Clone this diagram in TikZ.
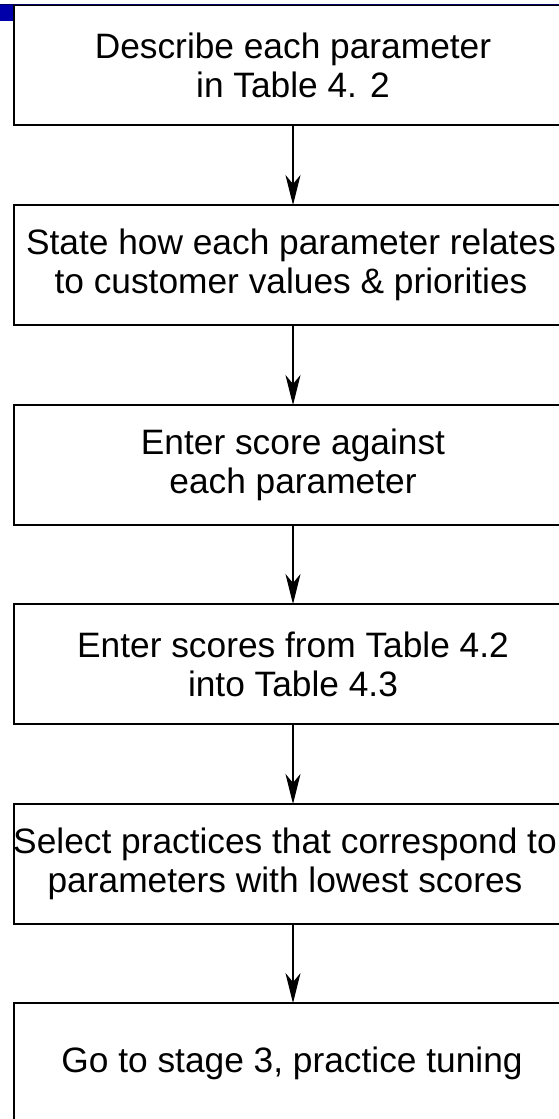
\documentclass[tikz,border=0pt]{standalone}
\usepackage{fontspec}
\setmainfont{Liberation Sans}
\usetikzlibrary{arrows.meta}
\begin{document}
\begin{tikzpicture}[x=1pt,y=-1pt,
  txt/.style={inner sep=0pt, align=center, font=\fontsize{35.3}{39}\selectfont},
  stepbox/.style={draw=black, line width=2pt, fill=white, minimum width=558pt, minimum height=120pt,
    inner sep=0pt, outer sep=0pt, txt},
  arr/.style={line width=1.2pt, -{Stealth[length=30pt,width=15pt,inset=9pt]}}]
\useasboundingbox (0,0) rectangle (559,1119);
\clip (0,0) rectangle (559,1119);
\fill[white] (0,0) rectangle (559,1119);
\node[stepbox] (b1) at (293,65) {Describe each parameter\\in Table 4. 2};
\node[stepbox] (b2) at (293,265) {};
\node[txt] (t2) at (291,265) {State how each parameter relates\\to customer values \& priorities};
\node[stepbox] (b3) at (293,465) {Enter score against\\each parameter};
\node[stepbox] (b4) at (293,664) {Enter scores from Table 4.2\\into Table 4.3};
\node[stepbox] (b5) at (293,864) {};
\node[txt] (t5) at (285,864) {Select practices that correspond to\\parameters with lowest scores};
\node[stepbox, minimum height=134pt] (b6) at (293,1070) {};
\node[txt] (t6) at (292,1063) {Go to stage 3, practice tuning};
\draw[arr] (b1.south) -- (b2.north);
\draw[arr] (b2.south) -- (b3.north);
\draw[arr] (b3.south) -- (b4.north);
\draw[arr] (b4.south) -- (b5.north);
\draw[arr] (b5.south) -- (b6.north);
\draw[line width=1.5pt, color={rgb,255:red,0;green,0;blue,96}] (0,4.5) -- (559,4.5);
\fill[color={rgb,255:red,0;green,0;blue,170}] (0,5) rectangle (13,21);
\end{tikzpicture}
\end{document}
